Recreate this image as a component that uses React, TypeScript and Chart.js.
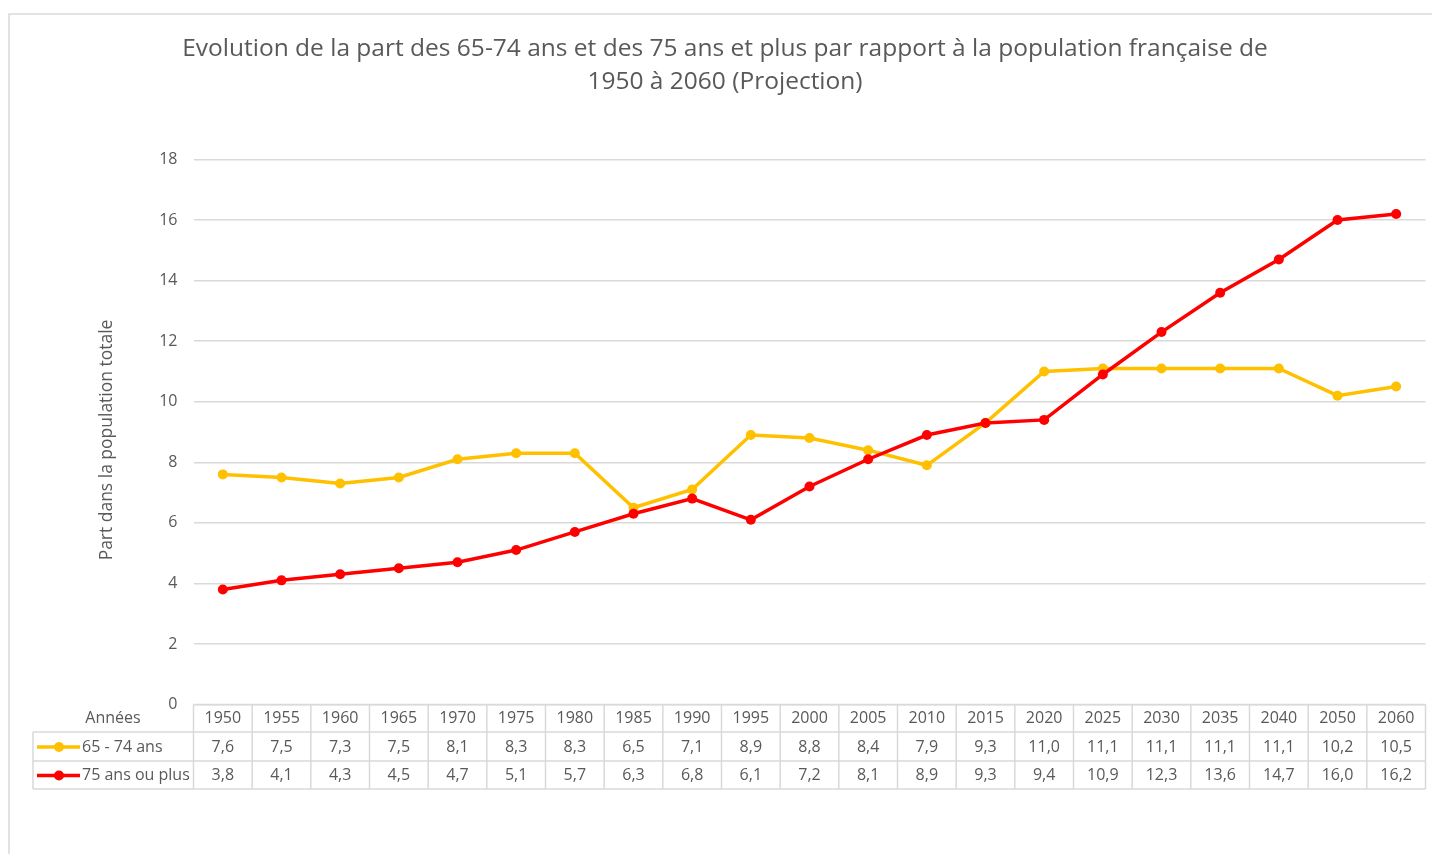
import React, { useEffect, useRef } from "react";
import { Chart, registerables } from "chart.js";

Chart.register(...registerables);

const years = ["1950", "1955", "1960", "1965", "1970", "1975", "1980", "1985", "1990", "1995", "2000", "2005", "2010", "2015", "2020", "2025", "2030", "2035", "2040", "2050", "2060"];
const serie6574 = [7.6, 7.5, 7.3, 7.5, 8.1, 8.3, 8.3, 6.5, 7.1, 8.9, 8.8, 8.4, 7.9, 9.3, 11.0, 11.1, 11.1, 11.1, 11.1, 10.2, 10.5];
const serie75 = [3.8, 4.1, 4.3, 4.5, 4.7, 5.1, 5.7, 6.3, 6.8, 6.1, 7.2, 8.1, 8.9, 9.3, 9.4, 10.9, 12.3, 13.6, 14.7, 16.0, 16.2];
const label6574 = "65 - 74 ans";
const label75 = "75 ans ou plus";
const titleLines = [
  "Evolution de la part des 65-74 ans et des 75 ans et plus par rapport à la population française de",
  "1950 à 2060 (Projection)",
];
const yTitle = "Part dans la population totale";
const headerLabel = "Années";

const FONT = "'Open Sans', 'Noto Sans', sans-serif";
const TEXT = "#595959";
const GRID = "#d9d9d9";
const YELLOW = "#FFC000";
const RED = "#FF0000";

const fmt = (v: number) => v.toFixed(1).replace(".", ",");

const decorPlugin = {
  id: "decor",
  afterDraw(chart: any) {
    const ctx = chart.ctx as CanvasRenderingContext2D;
    const area = chart.chartArea;
    const xs = chart.scales.x;
    ctx.save();

    // outer frame
    ctx.strokeStyle = GRID;
    ctx.lineWidth = 1.5;
    ctx.beginPath();
    ctx.moveTo(9, 900);
    ctx.lineTo(9, 14);
    ctx.lineTo(1500, 14);
    ctx.stroke();

    // title (fit first line to width)
    ctx.fillStyle = TEXT;
    ctx.textAlign = "center";
    ctx.textBaseline = "middle";
    let size = 22;
    ctx.font = `${size}px ${FONT}`;
    const w = ctx.measureText(titleLines[0]).width;
    size = size * 1086 / w;
    ctx.font = `${size}px ${FONT}`;
    ctx.fillText(titleLines[0], 725, 49);
    ctx.fillText(titleLines[1], 725, 82);

    // y axis title
    ctx.save();
    ctx.translate(107, 440);
    ctx.rotate(-Math.PI / 2);
    let ys = 16;
    ctx.font = `${ys}px ${FONT}`;
    ys = ys * 241 / ctx.measureText(yTitle).width;
    ctx.font = `${ys}px ${FONT}`;
    ctx.fillText(yTitle, 0, 0);
    ctx.restore();

    // data table
    const n = years.length;
    const colW = (area.right - area.left) / n;
    const rows = [area.bottom, 732, 761, 789];
    const tableLeft = 33;
    ctx.strokeStyle = GRID;
    ctx.lineWidth = 1.5;
    ctx.beginPath();
    ctx.moveTo(area.left, rows[0]);
    ctx.lineTo(area.right, rows[0]);
    for (let r = 1; r < rows.length; r++) {
      ctx.moveTo(tableLeft, rows[r]);
      ctx.lineTo(area.right, rows[r]);
    }
    ctx.moveTo(tableLeft, rows[1]);
    ctx.lineTo(tableLeft, rows[3]);
    for (let i = 0; i <= n; i++) {
      const x = i < n ? xs.getPixelForValue(i) - colW / 2 : area.right;
      ctx.moveTo(x, rows[0]);
      ctx.lineTo(x, rows[3]);
    }
    ctx.stroke();

    ctx.fillStyle = TEXT;
    ctx.font = `16px ${FONT}`;
    ctx.textAlign = "center";
    ctx.textBaseline = "middle";
    const cy = [0, 1, 2].map((r) => (rows[r] + rows[r + 1]) / 2 + 0.5);
    ctx.fillText(headerLabel, 113, cy[0]);
    for (let i = 0; i < n; i++) {
      const x = xs.getPixelForValue(i);
      ctx.fillText(years[i], x, cy[0]);
      ctx.fillText(fmt(serie6574[i]), x, cy[1]);
      ctx.fillText(fmt(serie75[i]), x, cy[2]);
    }
    // legend keys
    const keys = [
      { c: YELLOW, label: label6574, y: cy[1] },
      { c: RED, label: label75, y: cy[2] },
    ];
    for (const k of keys) {
      ctx.strokeStyle = k.c;
      ctx.lineWidth = 3.5;
      ctx.beginPath();
      ctx.moveTo(37, k.y);
      ctx.lineTo(80, k.y);
      ctx.stroke();
      ctx.fillStyle = k.c;
      ctx.beginPath();
      ctx.arc(59, k.y, 5, 0, Math.PI * 2);
      ctx.fill();
      ctx.fillStyle = TEXT;
      ctx.textAlign = "left";
      ctx.fillText(k.label, 82, k.y);
    }
    ctx.restore();
  },
};

export default function App() {
  const ref = useRef<HTMLCanvasElement>(null);
  useEffect(() => {
    if (!ref.current) return;
    const chart = new Chart(ref.current, {
      type: "line",
      data: {
        labels: years,
        datasets: [
          {
            label: label6574,
            data: serie6574,
            borderColor: YELLOW,
            backgroundColor: YELLOW,
            borderWidth: 3.5,
            pointRadius: 5,
            pointBorderWidth: 0,
            pointBackgroundColor: YELLOW,
            tension: 0,
            order: 1,
          },
          {
            label: label75,
            data: serie75,
            borderColor: RED,
            backgroundColor: RED,
            borderWidth: 3.5,
            pointRadius: 5,
            pointBorderWidth: 0,
            pointBackgroundColor: RED,
            tension: 0,
            order: 0,
          },
        ],
      },
      options: {
        responsive: false,
        animation: false,
        layout: { padding: { top: 159.5, bottom: 149.5, right: 6.5, left: 0 } },
        plugins: {
          legend: { display: false },
          title: { display: false },
          tooltip: { enabled: false },
        },
        scales: {
          x: { display: false, offset: true },
          y: {
            min: 0,
            max: 18,
            ticks: { stepSize: 2, color: TEXT, font: { family: FONT, size: 16 }, padding: 16 },
            grid: { color: GRID, lineWidth: 1.5, drawTicks: false },
            border: { display: false },
            afterFit: (s: any) => {
              s.width = 193.5;
            },
          },
        },
      },
      plugins: [decorPlugin],
    });
    return () => chart.destroy();
  }, []);
  return (
    <div style={{ position: "absolute", left: 0, top: 0, width: 1432, height: 854, background: "#fff" }}>
      <canvas ref={ref} width={1432} height={854} style={{ width: 1432, height: 854, display: "block" }} />
    </div>
  );
}
